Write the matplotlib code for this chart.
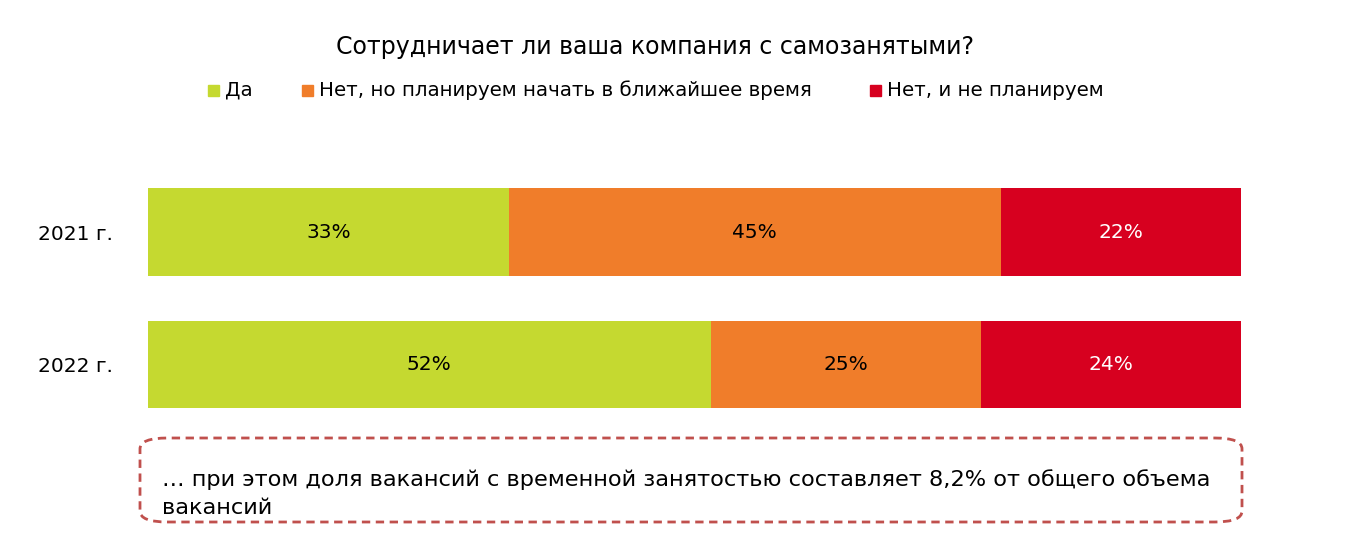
import matplotlib
matplotlib.use("Agg")
import matplotlib.pyplot as plt
from matplotlib.patches import FancyBboxPatch, Rectangle

years = ["2021 г.", "2022 г."]
series = ["Да", "Нет, но планируем начать в ближайшее время", "Нет, и не планируем"]
values = [[33, 52], [45, 25], [22, 24]]
colors = ["#C5D930", "#F07D2A", "#D7001F"]
text_colors = ["black", "black", "white"]

plt.rcParams["font.family"] = "DejaVu Sans"
fig = plt.figure(figsize=(13.72, 5.42), dpi=100)
W, H = 1372, 542
ax = fig.add_axes([148 / W, 1 - 430.75 / H, (1241 - 148) / W, 265 / H])

totals = [sum(v[i] for v in values) for i in range(len(years))]
ypos = [1, 0]
for i, yr in enumerate(years):
    left = 0
    for s in range(len(series)):
        w = values[s][i] / totals[i] * 100
        ax.barh(ypos[i], w, left=left, height=0.664, color=colors[s])
        ax.text(left + w / 2, ypos[i], f"{values[s][i]}%", ha="center", va="center",
                fontsize=14.5, color=text_colors[s])
        left += w
ax.set_xlim(0, 100)
ax.set_ylim(-0.5, 1.5)
ax.set_yticks(ypos)
ax.set_yticklabels(years, fontsize=14.5)
ax.tick_params(left=False, bottom=False, labelbottom=False, pad=22)
for sp in ax.spines.values():
    sp.set_visible(False)

fig.text(655 / W, 1 - 47 / H, "Сотрудничает ли ваша компания с самозанятыми?",
         ha="center", va="center", fontsize=17)

# legend
leg_x = [208, 302, 870]
for s, lab in enumerate(series):
    fig.patches.append(Rectangle((leg_x[s] / W, 1 - 96 / H), 11 / W, 11 / H,
                                 transform=fig.transFigure, color=colors[s]))
    fig.text((leg_x[s] + 17) / W, 1 - 90 / H, lab, ha="left", va="center", fontsize=14.3)

box = FancyBboxPatch((140 / W, 1 - 522 / H), (1242 - 140) / W, (522 - 438) / H,
                     boxstyle="round,pad=0,rounding_size=0.02", transform=fig.transFigure,
                     fill=False, ec="#C0504D", lw=2, ls=(0, (3, 2)))
fig.patches.append(box)
fig.text(162 / W, 1 - 480 / H,
         "… при этом доля вакансий с временной занятостью составляет 8,2% от общего объема",
         ha="left", va="center", fontsize=16.2)
fig.text(162 / W, 1 - 508 / H, "вакансий", ha="left", va="center", fontsize=16.2)

fig.savefig("out.png", dpi=100)
